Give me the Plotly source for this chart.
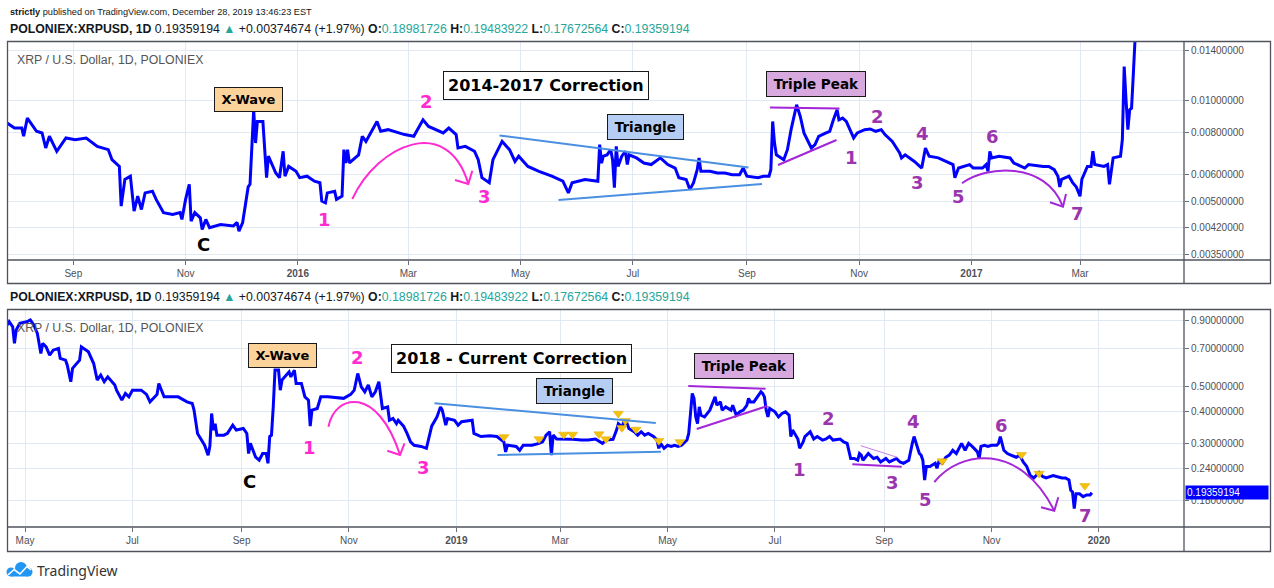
import math
import plotly.graph_objects as go

W, H = 1274, 588

# ---------------- data ----------------
top_dates = [
    "2015-07-27", "2015-07-31", "2015-08-04", "2015-08-05", "2015-08-07", "2015-08-12", "2015-08-15",
    "2015-08-17", "2015-08-19", "2015-08-23", "2015-08-28", "2015-09-02", "2015-09-08", "2015-09-14",
    "2015-09-20", "2015-09-22", "2015-09-26", "2015-09-27", "2015-09-29", "2015-10-02", "2015-10-04",
    "2015-10-06", "2015-10-08", "2015-10-10", "2015-10-14", "2015-10-16", "2015-10-20", "2015-10-25",
    "2015-10-29", "2015-10-30", "2015-11-01", "2015-11-03", "2015-11-04", "2015-11-06", "2015-11-09",
    "2015-11-10", "2015-11-12", "2015-11-14", "2015-11-20", "2015-11-27", "2015-11-29", "2015-11-30",
    "2015-12-02", "2015-12-05", "2015-12-06", "2015-12-07", "2015-12-08", "2015-12-09", "2015-12-10",
    "2015-12-13", "2015-12-14", "2015-12-15", "2015-12-16", "2015-12-20", "2015-12-22", "2015-12-24",
    "2015-12-25", "2015-12-27", "2015-12-31", "2016-01-02", "2016-01-06", "2016-01-10", "2016-01-13",
    "2016-01-14", "2016-01-16", "2016-01-17", "2016-01-21", "2016-01-22", "2016-01-25", "2016-01-26",
    "2016-01-27", "2016-01-28", "2016-01-29", "2016-02-03", "2016-02-05", "2016-02-07", "2016-02-13",
    "2016-02-15", "2016-02-19", "2016-02-28", "2016-03-04", "2016-03-09", "2016-03-12", "2016-03-20",
    "2016-03-23", "2016-03-27", "2016-03-28", "2016-04-01", "2016-04-06", "2016-04-08", "2016-04-10",
    "2016-04-14", "2016-04-16", "2016-04-19", "2016-04-21", "2016-04-25", "2016-04-28", "2016-04-30",
    "2016-05-05", "2016-05-11", "2016-05-18", "2016-05-24", "2016-05-27", "2016-05-29", "2016-06-05",
    "2016-06-12", "2016-06-13", "2016-06-14", "2016-06-15", "2016-06-17", "2016-06-19", "2016-06-20",
    "2016-06-21", "2016-06-22", "2016-06-23", "2016-06-25", "2016-06-27", "2016-06-28", "2016-06-29",
    "2016-07-03", "2016-07-07", "2016-07-11", "2016-07-16", "2016-07-20", "2016-07-24", "2016-07-26",
    "2016-07-30", "2016-08-01", "2016-08-03", "2016-08-05", "2016-08-06", "2016-08-07", "2016-08-12",
    "2016-08-16", "2016-08-20", "2016-08-24", "2016-08-28", "2016-08-30", "2016-09-01", "2016-09-07",
    "2016-09-10", "2016-09-13", "2016-09-14", "2016-09-15", "2016-09-16", "2016-09-17", "2016-09-21",
    "2016-09-23", "2016-09-25", "2016-09-28", "2016-09-30", "2016-10-02", "2016-10-04", "2016-10-06",
    "2016-10-08", "2016-10-10", "2016-10-14", "2016-10-16", "2016-10-18", "2016-10-20", "2016-10-21",
    "2016-10-23", "2016-10-25", "2016-10-27", "2016-10-29", "2016-10-31", "2016-11-04", "2016-11-07",
    "2016-11-10", "2016-11-13", "2016-11-15", "2016-11-19", "2016-11-23", "2016-11-24", "2016-11-26",
    "2016-12-01", "2016-12-05", "2016-12-07", "2016-12-09", "2016-12-14", "2016-12-20", "2016-12-22",
    "2016-12-23", "2016-12-25", "2016-12-31", "2017-01-02", "2017-01-07", "2017-01-09", "2017-01-10",
    "2017-01-11", "2017-01-12", "2017-01-16", "2017-01-22", "2017-01-24", "2017-01-30", "2017-02-01",
    "2017-02-09", "2017-02-12", "2017-02-15", "2017-02-17", "2017-02-18", "2017-02-19", "2017-02-23",
    "2017-02-25", "2017-02-27", "2017-03-01", "2017-03-02", "2017-03-05", "2017-03-07", "2017-03-08",
    "2017-03-09", "2017-03-14", "2017-03-16", "2017-03-17", "2017-03-19", "2017-03-23", "2017-03-24",
    "2017-03-25", "2017-03-26", "2017-03-27", "2017-03-28", "2017-03-29", "2017-03-30", "2017-03-31",
    "2017-04-01",
]
top_close = [
    0.00855, 0.00826, 0.00826, 0.00781, 0.00884, 0.00808, 0.00799,
    0.00721, 0.00781, 0.00705, 0.00772, 0.00763, 0.00772, 0.00729,
    0.00713, 0.00666, 0.00636, 0.00485, 0.00582, 0.00595, 0.00469,
    0.00519, 0.00474, 0.00531, 0.00537, 0.00508, 0.00464, 0.00458,
    0.00464, 0.00443, 0.00508, 0.00563, 0.00438, 0.00464, 0.00448,
    0.00414, 0.00443, 0.00419, 0.00428, 0.00424, 0.00434, 0.00409,
    0.00434, 0.00553, 0.00563, 0.00729, 0.00936, 0.00746, 0.00864,
    0.00864, 0.00697, 0.00589, 0.00682, 0.00608, 0.00589, 0.00705,
    0.00595, 0.00636, 0.00615, 0.00589, 0.00595, 0.00575, 0.00569,
    0.00502, 0.00496, 0.00531, 0.00537, 0.00508, 0.00519, 0.00713,
    0.00651, 0.00713, 0.00651, 0.00688, 0.00781, 0.00754, 0.00864,
    0.00808, 0.00817, 0.00790, 0.00781, 0.00874, 0.00835, 0.00799,
    0.00826, 0.00790, 0.00721, 0.00729, 0.00705, 0.00666, 0.00589,
    0.00569, 0.00666, 0.00713, 0.00754, 0.00713, 0.00658, 0.00682,
    0.00636, 0.00615, 0.00595, 0.00575, 0.00531, 0.00569, 0.00582,
    0.00575, 0.00738, 0.00651, 0.00682, 0.00688, 0.00713, 0.00666,
    0.00550, 0.00729, 0.00636, 0.00682, 0.00705, 0.00644, 0.00688,
    0.00674, 0.00651, 0.00644, 0.00674, 0.00644, 0.00629, 0.00589,
    0.00582, 0.00543, 0.00569, 0.00622, 0.00674, 0.00615, 0.00615,
    0.00608, 0.00608, 0.00601, 0.00601, 0.00629, 0.00595, 0.00589,
    0.00595, 0.00595, 0.00622, 0.00864, 0.00746, 0.00688, 0.00666,
    0.00713, 0.00817, 0.00968, 0.00894, 0.00799, 0.00763, 0.00721,
    0.00738, 0.00781, 0.00799, 0.00808, 0.00874, 0.00936, 0.00874,
    0.00884, 0.00864, 0.00817, 0.00772, 0.00799, 0.00817, 0.00821,
    0.00808, 0.00817, 0.00790, 0.00754, 0.00697, 0.00674, 0.00688,
    0.00658, 0.00629, 0.00721, 0.00682, 0.00674, 0.00651, 0.00644,
    0.00589, 0.00629, 0.00644, 0.00629, 0.00629, 0.00644, 0.00615,
    0.00705, 0.00674, 0.00682, 0.00674, 0.00651, 0.00629, 0.00644,
    0.00636, 0.00636, 0.00622, 0.00595, 0.00553, 0.00582, 0.00595,
    0.00569, 0.00553, 0.00519, 0.00582, 0.00636, 0.00636, 0.00705,
    0.00644, 0.00636, 0.00644, 0.00563, 0.00674, 0.00682, 0.00763,
    0.01256, 0.01002, 0.00817, 0.00936, 0.00946, 0.01203, 0.01520,
    0.02000,
]

bot_dates = [
    "2018-04-21", "2018-04-22", "2018-04-24", "2018-04-25", "2018-04-26", "2018-04-28", "2018-05-02",
    "2018-05-04", "2018-05-06", "2018-05-08", "2018-05-10", "2018-05-11", "2018-05-13", "2018-05-15",
    "2018-05-17", "2018-05-20", "2018-05-21", "2018-05-24", "2018-05-25", "2018-05-27", "2018-05-28",
    "2018-06-01", "2018-06-02", "2018-06-06", "2018-06-09", "2018-06-11", "2018-06-13", "2018-06-15",
    "2018-06-17", "2018-06-21", "2018-06-22", "2018-06-25", "2018-06-27", "2018-06-29", "2018-07-01",
    "2018-07-06", "2018-07-09", "2018-07-11", "2018-07-15", "2018-07-16", "2018-07-19", "2018-07-23",
    "2018-07-27", "2018-08-01", "2018-08-04", "2018-08-05", "2018-08-07", "2018-08-11", "2018-08-13",
    "2018-08-14", "2018-08-15", "2018-08-16", "2018-08-17", "2018-08-18", "2018-08-22", "2018-08-24",
    "2018-08-27", "2018-08-29", "2018-09-02", "2018-09-04", "2018-09-05", "2018-09-06", "2018-09-09",
    "2018-09-11", "2018-09-13", "2018-09-15", "2018-09-16", "2018-09-17", "2018-09-18", "2018-09-19",
    "2018-09-20", "2018-09-22", "2018-09-23", "2018-09-24", "2018-09-28", "2018-09-29", "2018-10-01",
    "2018-10-02", "2018-10-05", "2018-10-07", "2018-10-09", "2018-10-10", "2018-10-11", "2018-10-14",
    "2018-10-16", "2018-10-20", "2018-10-25", "2018-10-29", "2018-11-02", "2018-11-04", "2018-11-06",
    "2018-11-08", "2018-11-10", "2018-11-12", "2018-11-14", "2018-11-16", "2018-11-18", "2018-11-19",
    "2018-11-20", "2018-11-23", "2018-11-24", "2018-11-26", "2018-11-28", "2018-11-29", "2018-12-02",
    "2018-12-04", "2018-12-06", "2018-12-08", "2018-12-12", "2018-12-15", "2018-12-16", "2018-12-18",
    "2018-12-21", "2018-12-23", "2018-12-24", "2018-12-25", "2018-12-26", "2018-12-27", "2018-12-31",
    "2019-01-02", "2019-01-04", "2019-01-10", "2019-01-11", "2019-01-15", "2019-01-20", "2019-01-24",
    "2019-01-28", "2019-01-29", "2019-01-30", "2019-02-04", "2019-02-06", "2019-02-08", "2019-02-13",
    "2019-02-17", "2019-02-19", "2019-02-21", "2019-02-23", "2019-02-24", "2019-02-25", "2019-02-27",
    "2019-03-04", "2019-03-08", "2019-03-13", "2019-03-17", "2019-03-21", "2019-03-25", "2019-03-27",
    "2019-03-31", "2019-04-02", "2019-04-03", "2019-04-04", "2019-04-05", "2019-04-06", "2019-04-08",
    "2019-04-09", "2019-04-12", "2019-04-14", "2019-04-16", "2019-04-18", "2019-04-20", "2019-04-23",
    "2019-04-25", "2019-04-26", "2019-04-27", "2019-04-29", "2019-05-01", "2019-05-03", "2019-05-05",
    "2019-05-07", "2019-05-09", "2019-05-12", "2019-05-13", "2019-05-14", "2019-05-15", "2019-05-16",
    "2019-05-17", "2019-05-18", "2019-05-19", "2019-05-20", "2019-05-22", "2019-05-25", "2019-05-27",
    "2019-05-28", "2019-05-29", "2019-05-31", "2019-06-01", "2019-06-03", "2019-06-06", "2019-06-07",
    "2019-06-09", "2019-06-11", "2019-06-13", "2019-06-15", "2019-06-16", "2019-06-17", "2019-06-19",
    "2019-06-22", "2019-06-23", "2019-06-24", "2019-06-25", "2019-06-26", "2019-06-27", "2019-06-28",
    "2019-07-01", "2019-07-03", "2019-07-05", "2019-07-07", "2019-07-09", "2019-07-10", "2019-07-11",
    "2019-07-14", "2019-07-15", "2019-07-17", "2019-07-18", "2019-07-20", "2019-07-21", "2019-07-23",
    "2019-07-25", "2019-07-28", "2019-07-30", "2019-08-01", "2019-08-03", "2019-08-07", "2019-08-09",
    "2019-08-11", "2019-08-13", "2019-08-15", "2019-08-17", "2019-08-18", "2019-08-19", "2019-08-20",
    "2019-08-23", "2019-08-26", "2019-08-28", "2019-08-30", "2019-09-02", "2019-09-04", "2019-09-06",
    "2019-09-08", "2019-09-10", "2019-09-12", "2019-09-15", "2019-09-16", "2019-09-17", "2019-09-18",
    "2019-09-19", "2019-09-21", "2019-09-22", "2019-09-23", "2019-09-24", "2019-09-25", "2019-09-27",
    "2019-09-30", "2019-10-01", "2019-10-02", "2019-10-04", "2019-10-06", "2019-10-08", "2019-10-10",
    "2019-10-12", "2019-10-14", "2019-10-15", "2019-10-17", "2019-10-19", "2019-10-21", "2019-10-24",
    "2019-10-25", "2019-10-26", "2019-10-28", "2019-10-30", "2019-11-01", "2019-11-04", "2019-11-05",
    "2019-11-06", "2019-11-08", "2019-11-10", "2019-11-12", "2019-11-15", "2019-11-17", "2019-11-19",
    "2019-11-21", "2019-11-23", "2019-11-25", "2019-11-28", "2019-11-30", "2019-12-02", "2019-12-06",
    "2019-12-08", "2019-12-11", "2019-12-13", "2019-12-15", "2019-12-16", "2019-12-17", "2019-12-18",
    "2019-12-19", "2019-12-21", "2019-12-23", "2019-12-25", "2019-12-27", "2019-12-28",
]
bot_close = [
    0.866, 0.892, 0.853, 0.735, 0.828, 0.879, 0.892,
    0.906, 0.866, 0.804, 0.672, 0.735, 0.713, 0.662,
    0.692, 0.703, 0.643, 0.633, 0.605, 0.522, 0.588,
    0.633, 0.713, 0.682, 0.614, 0.530, 0.554, 0.522,
    0.545, 0.507, 0.484, 0.443, 0.470, 0.456, 0.484,
    0.484, 0.466, 0.436, 0.466, 0.514, 0.456, 0.456,
    0.456, 0.436, 0.430, 0.405, 0.329, 0.296, 0.271,
    0.293, 0.393, 0.339, 0.359, 0.324, 0.324, 0.329,
    0.354, 0.339, 0.344, 0.329, 0.275, 0.301, 0.266,
    0.259, 0.275, 0.275, 0.252, 0.320, 0.324, 0.417,
    0.579, 0.579, 0.484, 0.530, 0.570, 0.545, 0.579,
    0.514, 0.514, 0.456, 0.443, 0.351, 0.405, 0.411,
    0.456, 0.456, 0.453, 0.450, 0.466, 0.484, 0.562,
    0.499, 0.477, 0.507, 0.456, 0.477, 0.522, 0.456,
    0.411, 0.417, 0.370, 0.376, 0.359, 0.370, 0.351,
    0.329, 0.305, 0.296, 0.293, 0.288, 0.310, 0.351,
    0.381, 0.417, 0.405, 0.381, 0.354, 0.376, 0.370,
    0.354, 0.365, 0.370, 0.329, 0.320, 0.322, 0.320,
    0.305, 0.279, 0.296, 0.293, 0.283, 0.296, 0.296,
    0.301, 0.305, 0.324, 0.334, 0.271, 0.324, 0.313,
    0.313, 0.312, 0.310, 0.310, 0.313, 0.301, 0.310,
    0.312, 0.339, 0.359, 0.354, 0.339, 0.365, 0.359,
    0.344, 0.334, 0.324, 0.334, 0.324, 0.329, 0.320,
    0.310, 0.288, 0.301, 0.288, 0.296, 0.293, 0.296,
    0.293, 0.296, 0.310, 0.329, 0.393, 0.470, 0.450,
    0.381, 0.359, 0.417, 0.387, 0.381, 0.405, 0.436,
    0.456, 0.423, 0.436, 0.405, 0.417, 0.405, 0.423,
    0.387, 0.399, 0.405, 0.423, 0.450, 0.436, 0.436,
    0.466, 0.477, 0.470, 0.456, 0.405, 0.381, 0.411,
    0.399, 0.381, 0.393, 0.399, 0.387, 0.320, 0.339,
    0.313, 0.288, 0.305, 0.320, 0.329, 0.334, 0.313,
    0.320, 0.310, 0.313, 0.320, 0.310, 0.313, 0.305,
    0.301, 0.263, 0.263, 0.259, 0.275, 0.271, 0.259,
    0.275, 0.263, 0.266, 0.255, 0.263, 0.255, 0.259,
    0.263, 0.255, 0.252, 0.259, 0.283, 0.301, 0.320,
    0.305, 0.275, 0.271, 0.259, 0.217, 0.245, 0.245,
    0.252, 0.241, 0.255, 0.252, 0.266, 0.271, 0.283,
    0.275, 0.293, 0.301, 0.283, 0.301, 0.293, 0.279,
    0.263, 0.293, 0.296, 0.293, 0.296, 0.296, 0.301,
    0.320, 0.283, 0.275, 0.271, 0.266, 0.271, 0.255,
    0.245, 0.226, 0.221, 0.232, 0.224, 0.221, 0.226,
    0.224, 0.221, 0.221, 0.217, 0.198, 0.195, 0.168,
    0.192, 0.192, 0.187, 0.190, 0.190, 0.19359194,
]

# yellow "down" flags on the lower chart
flag_dates = ["2019-01-28", "2019-02-17", "2019-03-03", "2019-03-08", "2019-03-23", "2019-03-27",
              "2019-04-03", "2019-04-05", "2019-04-07", "2019-04-13", "2019-04-26", "2019-05-08",
              "2019-10-04", "2019-11-18", "2019-11-28", "2019-12-24"]
flag_prices = [0.319, 0.313, 0.326, 0.326, 0.327, 0.313,
               0.393, 0.346, 0.368, 0.341, 0.308, 0.305,
               0.257, 0.272, 0.230, 0.206]

top_price_ticks = [0.0035, 0.0042, 0.005, 0.006, 0.008, 0.010, 0.014]
bot_price_ticks = [0.18, 0.24, 0.30, 0.40, 0.50, 0.70, 0.90]
top_month_ticks = ["2015-09-01", "2015-11-01", "2016-01-01", "2016-03-01", "2016-05-01", "2016-07-01",
                   "2016-09-01", "2016-11-01", "2017-01-01", "2017-03-01"]
top_month_labels = ["Sep", "Nov", "<b>2016</b>", "Mar", "May", "Jul", "Sep", "Nov", "<b>2017</b>", "Mar"]
bot_month_ticks = ["2018-05-01", "2018-07-01", "2018-09-01", "2018-11-01", "2019-01-01", "2019-03-01",
                   "2019-05-01", "2019-07-01", "2019-09-01", "2019-11-01", "2020-01-01"]
bot_month_labels = ["May", "Jul", "Sep", "Nov", "<b>2019</b>", "Mar", "May", "Jul", "Sep", "Nov", "<b>2020</b>"]
last_close = 0.19359194

# ---------------- styling helpers ----------------
SANS = "Liberation Sans, Arial, sans-serif"
VERD = "DejaVu Sans, Verdana, sans-serif"
GRID = "#e1eaf2"
FRAME = "#50535e"
MAG = "#ff2bd0"
PURT = "#9b35ad"
PURL = "#a326d9"
TRI = "#4a8fe0"
TEAL = "#26a69a"
TS = "\u2009"  # thin space used as inner padding of the label boxes


def fx(x):
    return x / W


def fy(y):
    return 1 - y / H


def P(x, y):
    return f"{fx(x):.5f},{fy(y):.5f}"


def txt(x, y, text, size, color, family, xanchor="center", **kw):
    return dict(xref="paper", yref="paper", x=fx(x), y=fy(y), text=text, showarrow=False,
                font=dict(size=size, color=color, family=family), xanchor=xanchor,
                yanchor="middle", **kw)


def box(x, y, text, size, fill, pad=True):
    t = f"{TS}<b>{text}</b>{TS}" if pad else f"<b>{text}</b>"
    return txt(x, y, t, size, "#000000", VERD, bgcolor=fill,
               bordercolor="#1a1a1a", borderwidth=1, borderpad=4)


def seg(x0, y0, x1, y1, color, width):
    return dict(type="line", xref="paper", yref="paper", x0=fx(x0), y0=fy(y0), x1=fx(x1), y1=fy(y1),
                line=dict(color=color, width=width), layer="above")


def arc(p0, c1, c2, p3, color, width=2):
    return dict(type="path", xref="paper", yref="paper",
                path=f"M {P(*p0)} C {P(*c1)} {P(*c2)} {P(*p3)}",
                line=dict(color=color, width=width), layer="above")


def head(a, tip, b, color, width=2):
    return dict(type="path", xref="paper", yref="paper",
                path=f"M {P(*a)} L {P(*tip)} L {P(*b)}",
                line=dict(color=color, width=width), layer="above")


def rect(x0, y0, x1, y1, color=FRAME, width=1.3, fill=None):
    d = dict(type="rect", xref="paper", yref="paper", x0=fx(x0), y0=fy(y0), x1=fx(x1), y1=fy(y1),
             line=dict(color=color, width=width), layer="above")
    if fill:
        d["fillcolor"] = fill
    return d


# ---------------- figure ----------------
fig = go.Figure()
fig.add_trace(go.Scatter(x=top_dates, y=top_close, mode="lines", xaxis="x", yaxis="y",
                         line=dict(color="#0000ff", width=3), hoverinfo="skip", showlegend=False))
fig.add_trace(go.Scatter(x=bot_dates, y=bot_close, mode="lines", xaxis="x2", yaxis="y2",
                         line=dict(color="#0000ff", width=3), hoverinfo="skip", showlegend=False))
fig.add_trace(go.Scatter(x=flag_dates, y=flag_prices, mode="markers", xaxis="x2", yaxis="y2",
                         marker=dict(symbol="triangle-down", size=9, color="#f4c20d",
                                     line=dict(color="#e0a800", width=0.5)),
                         hoverinfo="skip", showlegend=False))

xcommon = dict(type="date", showgrid=True, gridcolor=GRID, gridwidth=1, zeroline=False, showline=False,
               ticks="outside", ticklen=4, tickcolor="#6b6e78",
               tickfont=dict(family=SANS, size=10, color="#4e5058"), fixedrange=True)
ycommon = dict(type="log", side="right", showgrid=True, gridcolor=GRID, gridwidth=1, zeroline=False,
               showline=False, ticks="outside", ticklen=4, tickcolor="#6b6e78",
               tickfont=dict(family=SANS, size=10, color="#4e5058"), fixedrange=True)

fig.update_layout(
    width=W, height=H, margin=dict(l=0, r=0, t=0, b=0),
    paper_bgcolor="white", plot_bgcolor="white", showlegend=False,
    xaxis=dict(xcommon, domain=[fx(8), fx(1184)], anchor="y",
               range=["2015-07-27 12:00", "2017-04-26 12:00"],
               tickvals=top_month_ticks, ticktext=top_month_labels),
    yaxis=dict(ycommon, domain=[fy(260), fy(42)], anchor="x",
               range=[math.log10(0.0035) - 6 / 339, math.log10(0.014) + 8.7 / 339],
               tickvals=top_price_ticks, ticktext=[f"{v:.8f}" for v in top_price_ticks]),
    xaxis2=dict(xcommon, domain=[fx(8), fx(1184)], anchor="y2",
                range=["2018-04-21 08:00", "2020-02-18 08:00"],
                tickvals=bot_month_ticks, ticktext=bot_month_labels),
    yaxis2=dict(ycommon, domain=[fy(527), fy(310)], anchor="x2",
                range=[math.log10(0.18) - 26 / 257.5, math.log10(0.9) + 10.7 / 257.5],
                tickvals=bot_price_ticks, ticktext=[f"{v:.8f}" for v in bot_price_ticks]),
)

hdr1 = "<b>strictly</b> published on TradingView.com, December 28, 2019 13:46:23 EST"
hdr2 = (f"<b>POLONIEX:XRPUSD, 1D</b> {last_close:.8f} <span style='color:{TEAL}'>▲</span> "
        f"+0.00374674 (+1.97%) <b>O:</b><span style='color:{TEAL}'>0.18981726</span> "
        f"<b>H:</b><span style='color:{TEAL}'>0.19483922</span> "
        f"<b>L:</b><span style='color:{TEAL}'>0.17672564</span> "
        f"<b>C:</b><span style='color:{TEAL}'>{last_close:.8f}</span>")

ann = [
    txt(8, 12, hdr1, 9.2, "#131722", SANS, xanchor="left"),
    txt(8, 29, hdr2, 12.3, "#131722", SANS, xanchor="left"),
    txt(8, 297, hdr2, 12.3, "#131722", SANS, xanchor="left"),
    txt(15, 60, "XRP / U.S. Dollar, 1D, POLONIEX", 12.3, "#555555", SANS, xanchor="left"),
    txt(15, 328, "XRP / U.S. Dollar, 1D, POLONIEX", 12.3, "#555555", SANS, xanchor="left"),
    # top panel labels
    box(248.5, 99, "X-Wave", 13, "#fcd39b"),
    box(546, 85, "2014-2017 Correction", 16, "#ffffff", pad=False),
    box(645, 127, "Triangle", 13.5, "#b5cdf3"),
    box(816, 84, "Triple Peak", 13.5, "#d8a9df"),
    txt(203, 244, "<b>C</b>", 18, "#000000", VERD),
    txt(324.5, 219, "<b>1</b>", 18, MAG, VERD),
    txt(426, 101.5, "<b>2</b>", 18, MAG, VERD),
    txt(484, 196.5, "<b>3</b>", 18, MAG, VERD),
    txt(851, 157, "<b>1</b>", 18, PURT, VERD),
    txt(877.5, 116, "<b>2</b>", 18, PURT, VERD),
    txt(917, 182.5, "<b>3</b>", 18, PURT, VERD),
    txt(922.5, 133.5, "<b>4</b>", 18, PURT, VERD),
    txt(958, 196.5, "<b>5</b>", 18, PURT, VERD),
    txt(992.5, 136, "<b>6</b>", 18, PURT, VERD),
    txt(1077.5, 213, "<b>7</b>", 18, PURT, VERD),
    # bottom panel labels
    box(282, 355.5, "X-Wave", 13, "#fcd39b"),
    box(511.5, 358, "2018 - Current Correction", 16, "#ffffff", pad=False),
    box(574.5, 391, "Triangle", 13.5, "#b5cdf3"),
    box(743.5, 366, "Triple Peak", 13.5, "#d8a9df"),
    txt(249, 481, "<b>C</b>", 18, "#000000", VERD),
    txt(309, 447, "<b>1</b>", 18, MAG, VERD),
    txt(357, 357, "<b>2</b>", 18, MAG, VERD),
    txt(423.5, 467, "<b>3</b>", 18, MAG, VERD),
    txt(799.5, 469, "<b>1</b>", 18, PURT, VERD),
    txt(828, 418, "<b>2</b>", 18, PURT, VERD),
    txt(892.5, 482, "<b>3</b>", 18, PURT, VERD),
    txt(913.5, 421.5, "<b>4</b>", 18, PURT, VERD),
    txt(925, 500, "<b>5</b>", 18, PURT, VERD),
    txt(1001, 425, "<b>6</b>", 18, PURT, VERD),
    txt(1085, 515, "<b>7</b>", 18, PURT, VERD),
    # last price tag on the right axis
    dict(xref="paper", yref="y2", x=fx(1185), y=math.log10(last_close), text=f"{last_close:.8f}",
         showarrow=False, xanchor="left", yanchor="middle", align="left", width=80,
         font=dict(family=SANS, size=10, color="#ffffff"), bgcolor="#0000ff", borderpad=1, xshift=0),
    # footer
    txt(35, 570, "TradingView", 14, "#333333", "Noto Sans, Liberation Sans, sans-serif", xanchor="left"),
]

shapes = [
    # panel frames
    rect(7.5, 41.5, 1270.5, 283.5),
    seg(7.5, 260, 1270.5, 260, FRAME, 1.3),
    seg(1184, 41.5, 1184, 283.5, FRAME, 1.3),
    rect(7.5, 309.5, 1270.5, 551.5),
    seg(7.5, 527, 1270.5, 527, FRAME, 1.3),
    seg(1184, 309.5, 1184, 551.5, FRAME, 1.3),
    # top: triangle
    seg(499.5, 135.5, 748.5, 167.5, TRI, 2),
    seg(558.5, 200, 762, 184, TRI, 2),
    # top: triple peak
    seg(770, 107.5, 839.5, 108.5, PURL, 2),
    seg(778, 165, 836.5, 140, PURL, 2),
    # top arcs
    arc((352.3, 199), (378, 144), (448, 114), (468.3, 184), MAG),
    head((455, 180), (468.3, 184), (472.3, 170.7), MAG),
    arc((962, 183.3), (985, 166), (1045, 160), (1063, 206.7), PURL),
    head((1050, 202.3), (1063, 206.7), (1066, 194), PURL),
    # bottom: triangle
    seg(434.5, 403.3, 655.8, 423, TRI, 2),
    seg(497.5, 455, 661, 451.7, TRI, 2),
    # bottom: triple peak
    seg(688.3, 386, 765.6, 388.7, PURL, 2),
    seg(696.7, 429, 767.5, 406, PURL, 2),
    # bottom: small wedge near 3
    seg(860.7, 445.7, 897.3, 457.3, "#c77de8", 1),
    seg(852.3, 464.3, 901.7, 466.7, PURL, 2),
    # bottom arcs
    arc((328.4, 426.7), (335, 393), (378, 386), (400, 455), MAG),
    head((387.3, 450.7), (400, 455), (404.5, 443.3), MAG),
    arc((934.3, 482), (960, 450), (1020, 442), (1054.3, 510.7), PURL),
    head((1041, 507.3), (1054.3, 510.7), (1058.3, 497.3), PURL),
    # footer logo (cloud)
    dict(type="circle", xref="paper", yref="paper", x0=fx(15), y0=fy(562), x1=fx(27), y1=fy(574),
         fillcolor="#2196f3", line=dict(width=0), layer="above"),
    dict(type="circle", xref="paper", yref="paper", x0=fx(6.5), y0=fy(567.5), x1=fx(15.5), y1=fy(576.5),
         fillcolor="#2196f3", line=dict(width=0), layer="above"),
    dict(type="circle", xref="paper", yref="paper", x0=fx(23.5), y0=fy(567.5), x1=fx(32.5), y1=fy(576.5),
         fillcolor="#2196f3", line=dict(width=0), layer="above"),
    rect(11, 571, 28, 576.5, color="#2196f3", width=0, fill="#2196f3"),
    dict(type="path", xref="paper", yref="paper",
         path=f"M {P(8, 575)} L {P(14, 569.5)} L {P(20, 574)} L {P(27, 566.5)} L {P(31, 570)}",
         line=dict(color="#ffffff", width=1.6), layer="above"),
]

fig.update_layout(annotations=ann, shapes=shapes)
fig.write_html("out.html", config={"displayModeBar": False, "staticPlot": True},
               post_script="document.body.style.margin='0px';document.body.style.overflow='hidden';")
